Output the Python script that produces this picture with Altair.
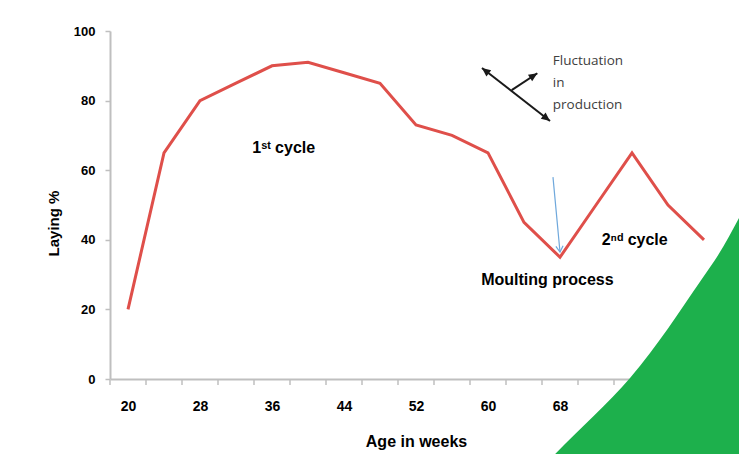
import altair as alt
import pandas as pd

# ---- main series ----
ages = [20, 24, 28, 32, 36, 40, 44, 48, 52, 56, 60, 64, 68, 72, 76, 80, 84]
laying = [20, 65, 80, 85, 90, 91, 88, 85, 73, 70, 65, 45, 35, 50, 65, 50, 40]

# tick marks sit between categories (every 4 weeks, offset by 2)
x_ticks = list(range(18, 87, 4))
y_ticks = [0, 20, 40, 60, 80, 100]

# ---- bold annotations ----
note_text = ["1\u02e2\u1d57 cycle", "2\u207f\u1d48 cycle", "Moulting process"]
note_age = [37.3, 76.3, 66.6]
note_val = [66.4, 40.0, 28.4]

# ---- plain annotation ----
fluct_text = ["Fluctuation", "in", "production"]
fluct_age = [67.2, 67.2, 67.2]
fluct_val = [91.4, 85.1, 78.7]

# ---- black arrows ----
seg_a1 = [59.33, 62.63]
seg_v1 = [89.37, 83.0]
seg_a2 = [66.89, 65.48]
seg_v2 = [74.14, 87.87]
head_age = [59.33, 66.89, 65.48]
head_val = [89.37, 74.14, 87.87]
head_ang = [218, 38, 327]

# ---- blue arrow ----
blue_a1 = [67.22]
blue_v1 = [58.0]
blue_a2 = [68.0]
blue_v2 = [36.5]

# ---- green corner decoration ----
green_age = [89.8, 88.9, 85.22, 83.67, 75.78, 66.0, 64.5]
green_val = [55.0, 51.0, 34.2, 28.4, 0.3, -25.6, -30.0]
green_right = [100.0] * len(green_age)

FONT = "Liberation Sans"
GRAY = "#bfbfbf"
xs = alt.Scale(domain=[18, 86], nice=False, zero=False)
ys = alt.Scale(domain=[0, 100], nice=False, zero=False)

df = pd.DataFrame({"age": ages, "laying": laying})

x_axis = alt.Axis(
    values=x_ticks,
    labelExpr="datum.value % 8 == 2 && datum.value < 86 ? format(datum.value + 2, 'd') : ''",
    labelOffset=18,
    labelOverlap=False,
    labelFlush=False,
    grid=False,
    ticks=False,
    domainColor=GRAY,
    domainWidth=2,
    labelFont=FONT,
    labelFontWeight="bold",
    labelFontSize=14,
    labelColor="#000000",
    labelPadding=20,
    title="Age in weeks",
    titleFont=FONT,
    titleFontWeight="bold",
    titleFontSize=16,
    titleColor="#000000",
    titleY=62,
    titleBaseline="middle",
)
y_axis = alt.Axis(
    values=y_ticks,
    grid=False,
    domainColor=GRAY,
    domainWidth=2,
    tickColor=GRAY,
    tickWidth=1.5,
    tickSize=5,
    labelFont=FONT,
    labelFontWeight="bold",
    labelFontSize=13,
    labelColor="#000000",
    labelPadding=10,
    title="Laying %",
    titleFont=FONT,
    titleFontWeight="bold",
    titleFontSize=15,
    titleColor="#000000",
    titleX=-57,
    titleY=192,
    titleBaseline="middle",
)

line = alt.Chart(df).mark_line(color="#df4f4a", strokeWidth=3).encode(
    x=alt.X("age:Q", scale=xs, axis=x_axis),
    y=alt.Y("laying:Q", scale=ys, axis=y_axis),
)

ticks = alt.Chart(pd.DataFrame({"t": x_ticks})).mark_rule(color=GRAY, strokeWidth=1.5).encode(
    x=alt.X("t:Q", scale=xs),
    y=alt.value(349),
    y2=alt.value(354),
)

notes = alt.Chart(pd.DataFrame({"t": note_text, "a": note_age, "v": note_val})).mark_text(
    font=FONT, fontWeight="bold", fontSize=16, color="#000000", align="center", baseline="middle"
).encode(
    x=alt.X("a:Q", scale=xs),
    y=alt.Y("v:Q", scale=ys),
    text="t:N",
)

fluct = alt.Chart(pd.DataFrame({"t": fluct_text, "a": fluct_age, "v": fluct_val})).mark_text(
    font="Open Sans", fontSize=13.5, color="#404040", align="left", baseline="middle"
).encode(
    x=alt.X("a:Q", scale=xs),
    y=alt.Y("v:Q", scale=ys),
    text="t:N",
)

segs = alt.Chart(pd.DataFrame({"a1": seg_a1, "v1": seg_v1, "a2": seg_a2, "v2": seg_v2})).mark_rule(
    color="#1a1a1a", strokeWidth=2
).encode(
    x=alt.X("a1:Q", scale=xs),
    y=alt.Y("v1:Q", scale=ys),
    x2="a2:Q",
    y2="v2:Q",
)

heads = alt.Chart(pd.DataFrame({"a": head_age, "v": head_val, "ang": head_ang})).mark_point(
    shape="M0,0L-1,-0.45L-1,0.45Z", filled=True, size=300, color="#1a1a1a", opacity=1
).encode(
    x=alt.X("a:Q", scale=xs),
    y=alt.Y("v:Q", scale=ys),
    angle=alt.Angle("ang:Q", scale=None),
)

blue = alt.Chart(pd.DataFrame({"a1": blue_a1, "v1": blue_v1, "a2": blue_a2, "v2": blue_v2})).mark_rule(
    color="#6fa8dc", strokeWidth=1.2
).encode(
    x=alt.X("a1:Q", scale=xs),
    y=alt.Y("v1:Q", scale=ys),
    x2="a2:Q",
    y2="v2:Q",
)

blue_head = alt.Chart(pd.DataFrame({"a": blue_a2, "v": blue_v2})).mark_point(
    shape="M-0.6,-1L0,0L0.6,-1", filled=False, size=144, color="#6fa8dc",
    strokeWidth=1.2, angle=355, opacity=1
).encode(
    x=alt.X("a:Q", scale=xs),
    y=alt.Y("v:Q", scale=ys),
)

green = alt.Chart(pd.DataFrame({"a": green_age, "v": green_val, "r": green_right})).mark_area(
    orient="horizontal", interpolate="monotone", color="#1db04c", opacity=1
).encode(
    x=alt.X("a:Q", scale=xs),
    x2="r:Q",
    y=alt.Y("v:Q", scale=ys),
)

chart = alt.layer(line, ticks, notes, fluct, segs, heads, blue, blue_head, green).properties(
    width=612,
    height=348,
    padding={"left": 102, "top": 23, "right": 17, "bottom": 75},
    autosize=alt.AutoSizeParams(type="none"),
    background="#ffffff",
).configure_view(stroke=None)

chart.save("out.html", embed_options={"renderer": "svg", "actions": False})
